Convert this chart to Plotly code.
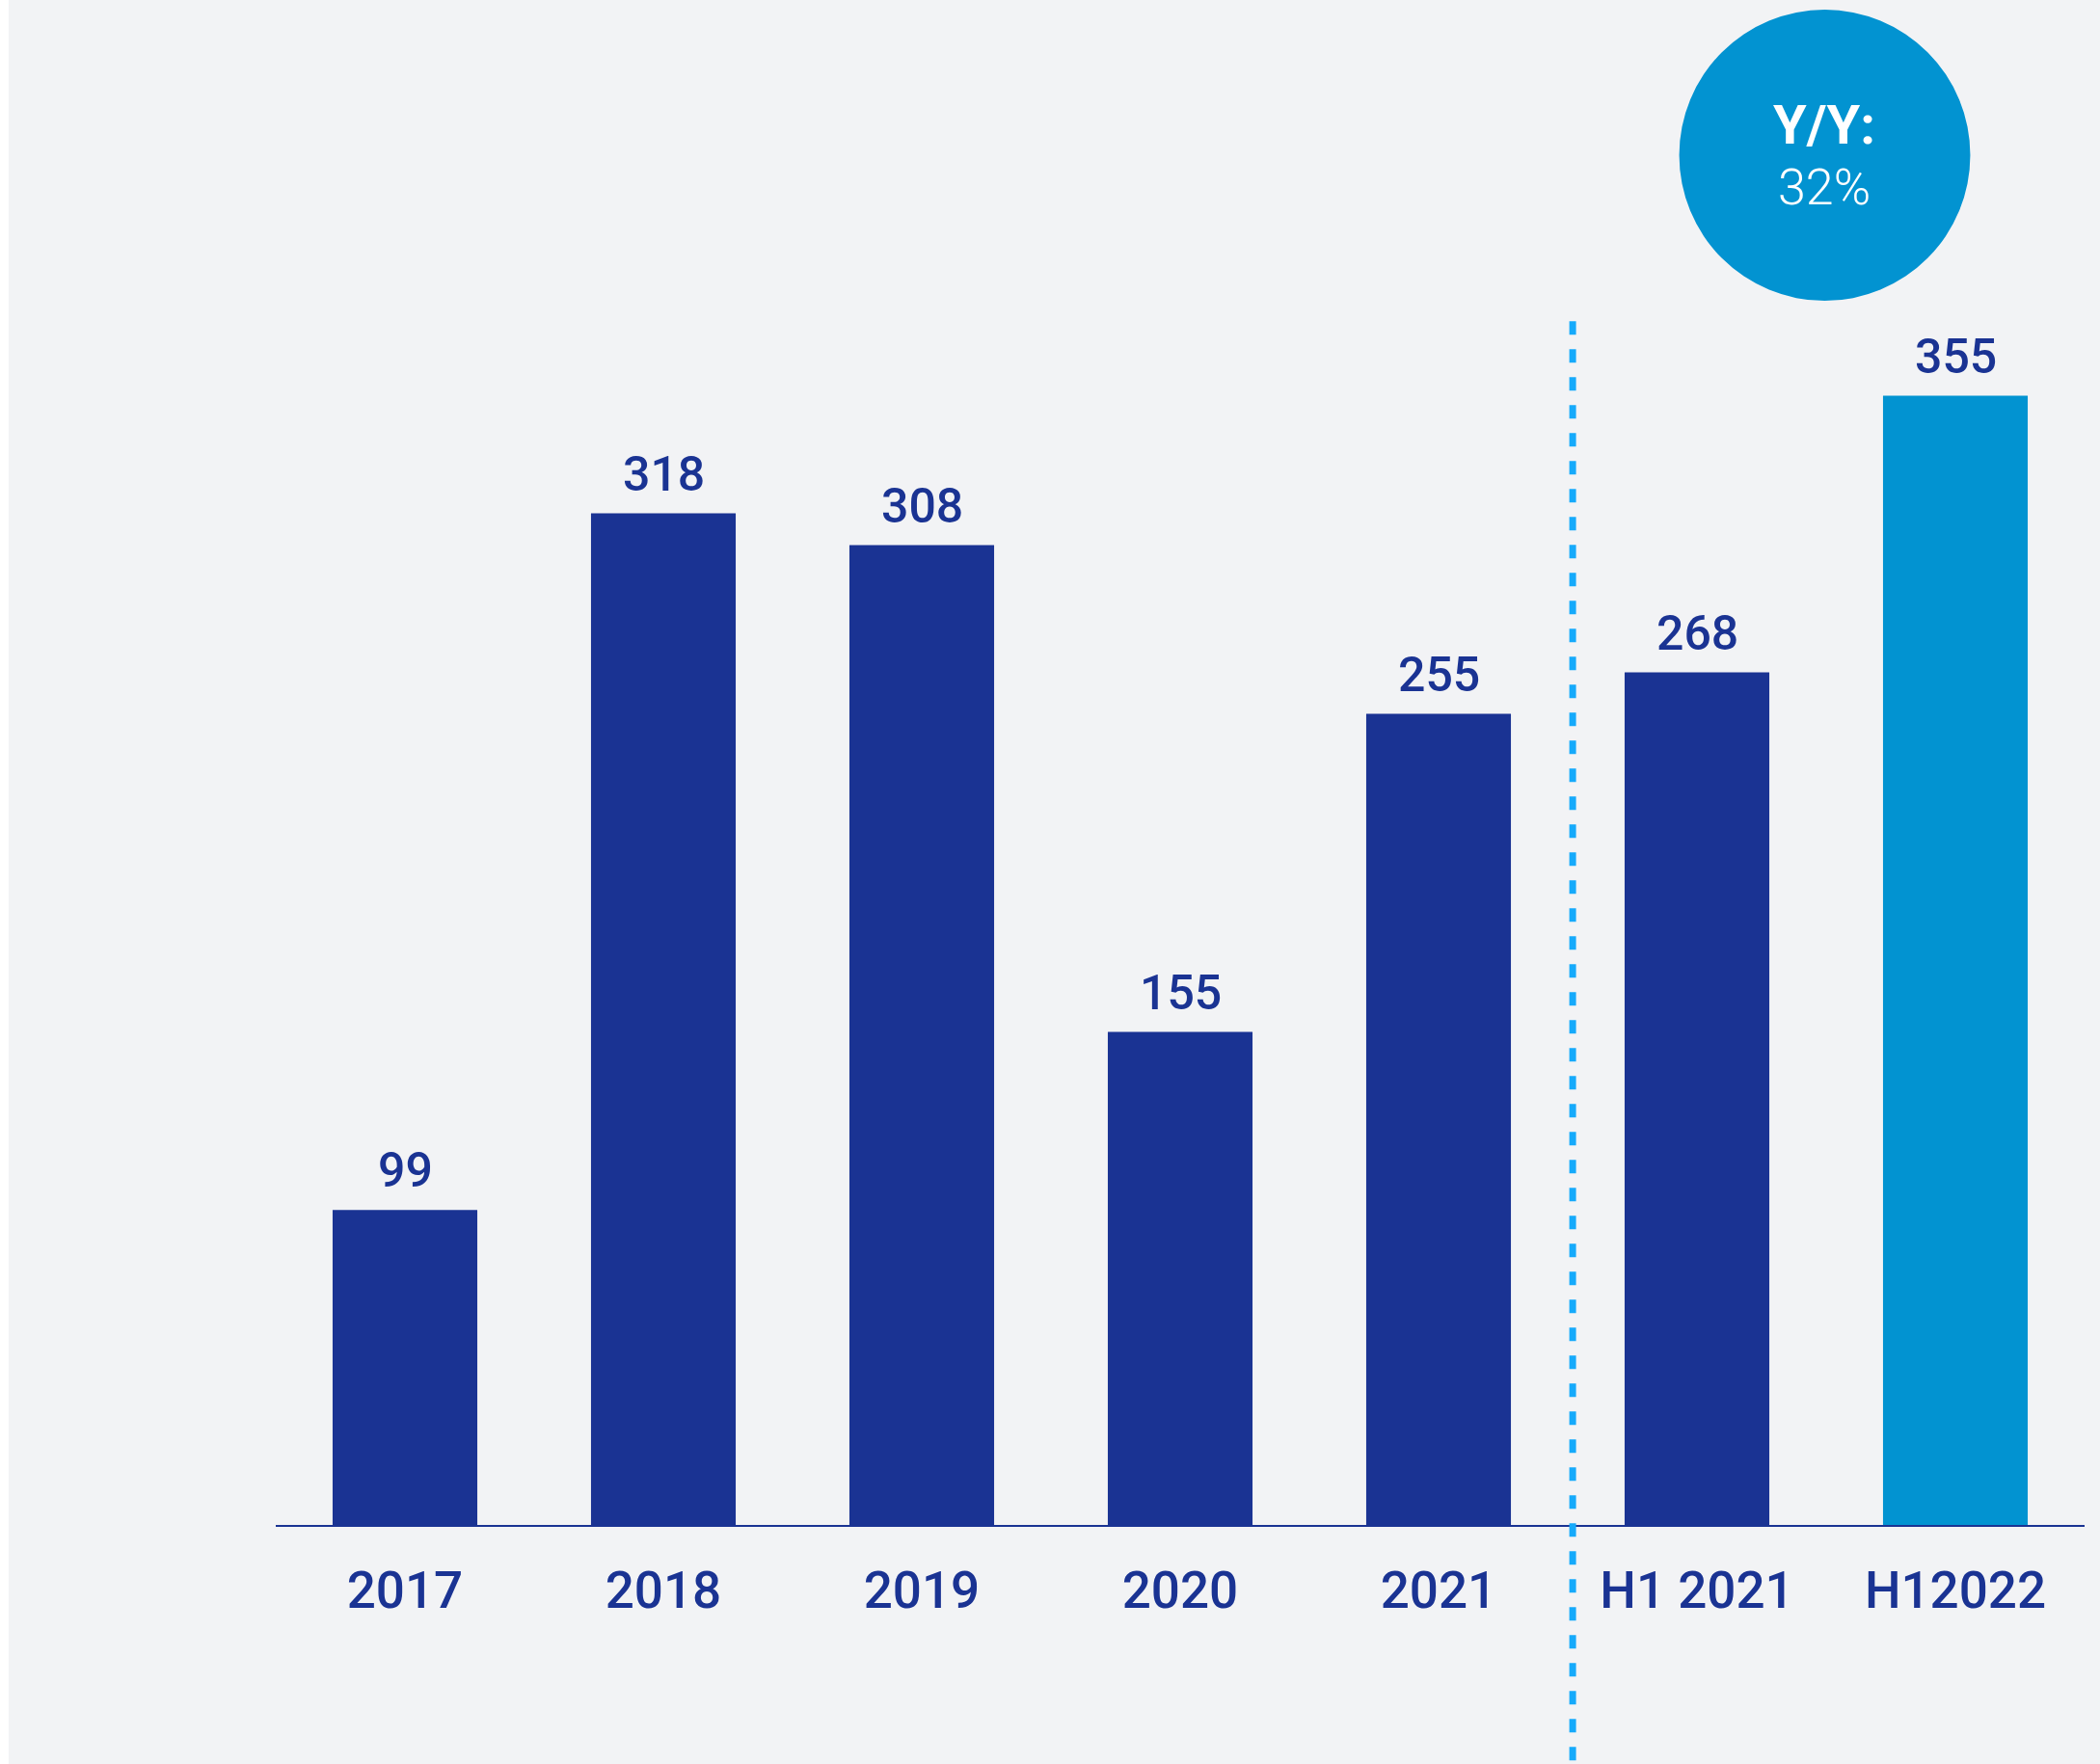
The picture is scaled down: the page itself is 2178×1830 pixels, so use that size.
import plotly.graph_objects as go

# Chart data
categories = ["2017", "2018", "2019", "2020", "2021", "H1 2021", "H12022"]
values = [99, 318, 308, 155, 255, 268, 355]
yoy_title = "Y/Y:"
yoy_value = "32%"

# Styling
NAVY = "#1A3393"
CYAN = "#0293D1"
DASH = "#16AAFB"
BG = "#F2F3F5"
FONT = "Roboto"

bar_colors = [CYAN if c == categories[-1] else NAVY for c in categories]

fig = go.Figure()
fig.add_trace(go.Bar(
    x=categories,
    y=values,
    marker=dict(color=bar_colors, line=dict(width=0)),
    width=0.56,
    hoverinfo="skip",
))

# Value labels above each bar (category index keeps year-like labels from
# being read as numbers)
for i, v in enumerate(values):
    fig.add_annotation(
        x=i, y=v, xref="x", yref="y",
        text=str(v), showarrow=False,
        xanchor="center", yanchor="bottom", yshift=10,
        font=dict(family=FONT, size=50, color=NAVY, weight=500),
    )

# Dashed separator between full years and half years
fig.add_shape(
    type="line", xref="paper", yref="paper",
    x0=0.717, x1=0.717, y0=0.946, y1=-0.2,
    line=dict(color=DASH, width=7, dash="14px,15px"),
    layer="above",
)

# Year-over-year bubble
fig.add_shape(
    type="circle", xref="paper", yref="paper",
    x0=0.7759, x1=0.9368, y0=0.9621, y1=1.1909,
    fillcolor=CYAN, line=dict(width=0), layer="above",
)
fig.add_annotation(
    x=0.8563, y=1.100, xref="paper", yref="paper",
    text=yoy_title, showarrow=False,
    xanchor="center", yanchor="middle",
    font=dict(family=FONT, size=56, color="white", weight=700),
)
fig.add_annotation(
    x=0.8563, y=1.0508, xref="paper", yref="paper",
    text=yoy_value, showarrow=False,
    xanchor="center", yanchor="middle",
    font=dict(family=FONT, size=52, color="white", weight=300),
)

# Thin white strip on the left edge
fig.add_shape(
    type="rect", xref="paper", yref="paper",
    x0=-0.2, x1=-0.1477, y0=-0.3, y1=1.3,
    fillcolor="white", line=dict(width=0), layer="below",
)

fig.update_layout(
    width=2178, height=1830,
    margin=dict(l=286, r=16, t=262, b=248, pad=0),
    paper_bgcolor=BG, plot_bgcolor=BG,
    showlegend=False,
    bargap=0.44,
    xaxis=dict(
        type="category",
        range=[-0.5, 6.5],
        showgrid=False, zeroline=False,
        showline=True, linecolor=NAVY, linewidth=2,
        ticks="", ticklabelstandoff=20,
        tickfont=dict(family=FONT, size=53, color=NAVY, weight=500),
        fixedrange=True,
    ),
    yaxis=dict(
        range=[0, 400],
        showgrid=False, zeroline=False, showline=False,
        showticklabels=False, ticks="",
        fixedrange=True,
    ),
)

fig.write_html("out.html")
